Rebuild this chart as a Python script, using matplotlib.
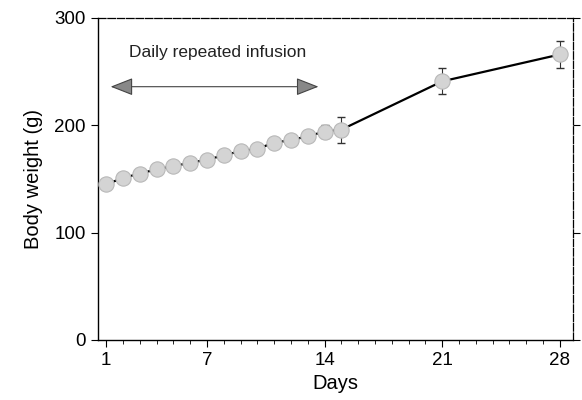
import matplotlib
matplotlib.use("Agg")
import matplotlib.pyplot as plt
import numpy as np

plt.rcParams['font.family'] = ['Liberation Sans', 'DejaVu Sans']

days = [1, 2, 3, 4, 5, 6, 7, 8, 9, 10, 11, 12, 13, 14, 15, 21, 28]
weight = [145, 151, 155, 159, 162, 165, 168, 172, 176, 178, 184, 186, 190, 194, 196, 241, 266]
err = [0, 0, 0, 0, 0, 0, 0, 0, 0, 0, 0, 0, 3, 6, 12, 12, 13]
xticks = [1, 7, 14, 21, 28]
yticks = [0, 100, 200, 300]
arrow_start, arrow_end, arrow_y = 1.1, 13.8, 236
label_text = "Daily repeated infusion"

fig = plt.figure(figsize=(5.82, 4.00), dpi=100)
ax = fig.add_axes([0.168, 0.15, 0.817, 0.805])

ax.plot(days, weight, color='black', lw=1.6, zorder=2)
ax.errorbar(days, weight, yerr=err, fmt='none', ecolor='#333333', elinewidth=0.8,
            capsize=3, capthick=1.0, zorder=2)
ax.plot(days, weight, linestyle='none', marker='o', markersize=11,
        markerfacecolor='#d4d4d4', markeredgecolor='#b8b8b8', markeredgewidth=0.8, zorder=3)

ax.annotate('', xy=(arrow_start, arrow_y), xytext=(arrow_end, arrow_y),
            arrowprops=dict(arrowstyle='<|-|>,head_length=1.4,head_width=0.55',
                            mutation_scale=10, edgecolor='#444444', facecolor='#888888', lw=0.8))
ax.text(2.35, 268, label_text, fontsize=12.5, color='#222222', va='center', ha='left')

ax.set_xlim(0.5, 28.8)
ax.set_ylim(0, 300)
ax.set_xticks(xticks)
ax.set_xticks(range(1, 29), minor=True)
ax.set_yticks(yticks)
ax.tick_params(axis='both', which='major', labelsize=13.5, direction='out', length=5, width=0.8)
ax.tick_params(axis='x', which='minor', direction='out', length=3, width=0.6)
ax.tick_params(axis='y', right=True, which='major')

ax.set_xlabel('Days', fontsize=14.5, labelpad=4)
ax.set_ylabel('Body weight (g)', fontsize=14.5, labelpad=8)

for s in ['left', 'bottom']:
    ax.spines[s].set_linewidth(1.0)
for s in ['top', 'right']:
    ax.spines[s].set_linewidth(0.9)
    ax.spines[s].set_linestyle((0, (6, 1.5)))

fig.savefig('out.png', dpi=100)
